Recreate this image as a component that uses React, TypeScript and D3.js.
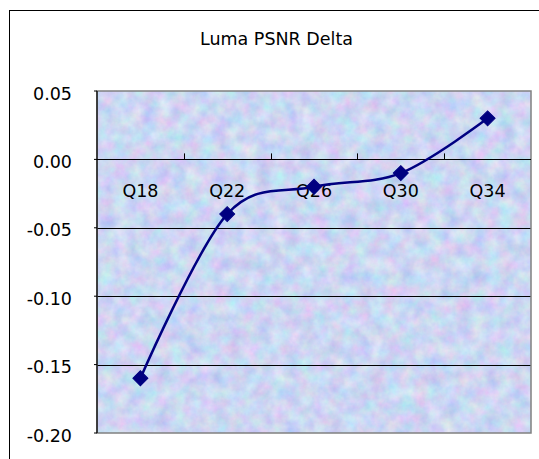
import React from "react";
import * as d3 from "d3";

const title = "Luma PSNR Delta";
const categories = ["Q18", "Q22", "Q26", "Q30", "Q34"];
const values = [-0.16, -0.04, -0.02, -0.01, 0.03];
const yTicks = [0.05, 0.0, -0.05, -0.1, -0.15, -0.2];

const W = 539;
const H = 459;
const plot = { left: 97, right: 531, top: 91, bottom: 433 };
const FONT = "'DejaVu Sans', Verdana, sans-serif";

export default function App() {
  const x = d3
    .scaleBand<string>()
    .domain(categories)
    .range([plot.left, plot.right])
    .paddingInner(0)
    .paddingOuter(0);
  const y = d3.scaleLinear().domain([-0.2, 0.05]).range([plot.bottom, plot.top]);

  const pts: [number, number][] = categories.map((c, i) => [
    (x(c) as number) + x.bandwidth() / 2,
    y(values[i]),
  ]);
  const line = d3.line().curve(d3.curveCardinal.tension(0))(pts) || "";
  const diamond = d3.symbol().type(d3.symbolSquare).size(112)() || "";

  const y0 = y(0);
  const boundaries = categories.map((c) => x(c) as number).slice(1);

  return (
    <div style={{ position: "absolute", left: 0, top: 0 }}>
      <svg width={W} height={H} style={{ display: "block", background: "#fff" }}>
        <defs>
          <filter
            id="tex"
            x="0"
            y="0"
            width="100%"
            height="100%"
            filterUnits="objectBoundingBox"
            colorInterpolationFilters="sRGB"
          >
            <feTurbulence type="fractalNoise" baseFrequency="0.07" numOctaves="4" seed="7" result="n" />
            <feColorMatrix
              in="n"
              type="matrix"
              values="0.3 0 0 0 0.65  0 0.24 0 0 0.72  0 0 0.1 0 0.9  0 0 0 0 1"
            />
          </filter>
        </defs>
        <rect x={9.5} y={10.5} width={W} height={H} fill="#fff" stroke="#000" strokeWidth={1} />
        <text x={276.5} y={45} textAnchor="middle" fontFamily={FONT} fontSize={17.5} fill="#000">
          {title}
        </text>
        <rect
          x={plot.left}
          y={plot.top}
          width={plot.right - plot.left}
          height={plot.bottom - plot.top}
          fill="#cfd6f4"
          filter="url(#tex)"
        />
        {yTicks
          .filter((t) => t !== 0 && t !== 0.05 && t !== -0.2)
          .map((t) => (
            <line
              key={"g" + t}
              x1={plot.left}
              x2={plot.right}
              y1={Math.round(y(t)) + 0.5}
              y2={Math.round(y(t)) + 0.5}
              stroke="#000"
              strokeWidth={1}
            />
          ))}
        <rect
          x={plot.left}
          y={plot.top}
          width={plot.right - plot.left}
          height={plot.bottom - plot.top}
          fill="none"
          stroke="#808080"
          strokeWidth={1.5}
        />
        <line x1={plot.left} x2={plot.left} y1={plot.top} y2={plot.bottom} stroke="#000" strokeWidth={1.2} />
        {yTicks.map((t) => (
          <line
            key={"yt" + t}
            x1={plot.left - 3}
            x2={plot.left}
            y1={y(t)}
            y2={y(t)}
            stroke="#000"
            strokeWidth={1}
          />
        ))}
        <line
          x1={plot.left}
          x2={plot.right}
          y1={Math.round(y0) + 0.5}
          y2={Math.round(y0) + 0.5}
          stroke="#000"
          strokeWidth={1}
        />
        {boundaries.map((b, i) => (
          <line
            key={"xt" + i}
            x1={Math.round(b) + 0.5}
            x2={Math.round(b) + 0.5}
            y1={y0 - 6}
            y2={y0}
            stroke="#000"
            strokeWidth={1}
          />
        ))}
        {yTicks.map((t) => (
          <text
            key={"yl" + t}
            x={72}
            y={y(t) + 8.5}
            textAnchor="end"
            fontFamily={FONT}
            fontSize={17.5}
            fill="#000"
          >
            {t.toFixed(2)}
          </text>
        ))}
        {categories.map((c) => (
          <text
            key={"xl" + c}
            x={(x(c) as number) + x.bandwidth() / 2}
            y={197}
            textAnchor="middle"
            fontFamily={FONT}
            fontSize={17.5}
            fill="#000"
          >
            {c}
          </text>
        ))}
        <path d={line} fill="none" stroke="#000080" strokeWidth={2.5} />
        {pts.map((p, i) => (
          <path
            key={"m" + i}
            d={diamond}
            transform={`translate(${p[0]},${p[1]}) rotate(45)`}
            fill="#000080"
            stroke="#000080"
            strokeWidth={1}
          />
        ))}
      </svg>
    </div>
  );
}
